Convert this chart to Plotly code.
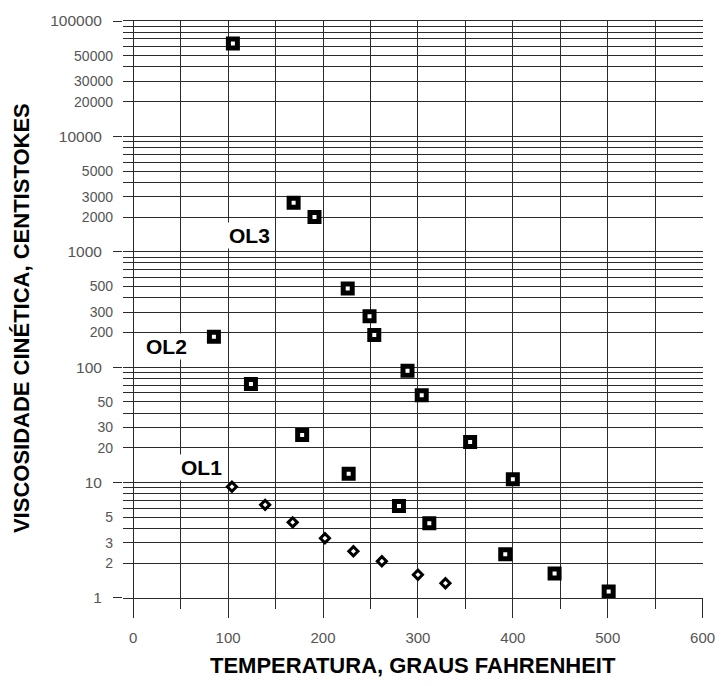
import math
import plotly.graph_objects as go

# ---- data ----
ol3_temp = [105, 169, 191, 226, 249, 254, 289, 304, 355, 400]
ol3_visc = [63800, 2660, 2005, 481, 276, 190, 93, 57, 22.5, 10.7]

ol2_temp = [85, 124, 178, 227, 280, 312, 392, 444, 501]
ol2_visc = [184, 71.5, 25.8, 11.9, 6.28, 4.43, 2.39, 1.63, 1.14]

ol1_temp = [104, 139, 168, 202, 232, 262, 300, 329]
ol1_visc = [9.2, 6.41, 4.52, 3.29, 2.54, 2.08, 1.59, 1.34]

series_labels = ["OL3", "OL2", "OL1"]
label_temp = [123, 35, 72]
label_visc = [1384, 150, 13.4]

x_major = [0, 100, 200, 300, 400, 500, 600]
y_decades = [1, 10, 100, 1000, 10000, 100000]
y_minor_labels = [2, 3, 5, 20, 30, 50, 200, 300, 500, 2000, 3000, 5000, 20000, 30000, 50000]
y_grid = [m * 10 ** e for e in range(5) for m in range(1, 10)] + [100000]

x_title = "TEMPERATURA, GRAUS FAHRENHEIT"
y_title = "VISCOSIDADE CINÉTICA, CENTISTOKES"

# ---- figure ----
FONT = "Arial, Liberation Sans, sans-serif"
GRID = "#2b2b2b"
fig = go.Figure()

sq = dict(symbol="square", size=9, color="white", line=dict(color="black", width=5))
dm = dict(symbol="diamond", size=7, color="white", line=dict(color="black", width=3))
fig.add_trace(go.Scatter(x=ol3_temp, y=ol3_visc, mode="markers", marker=sq, name="OL3"))
fig.add_trace(go.Scatter(x=ol2_temp, y=ol2_visc, mode="markers", marker=sq, name="OL2"))
fig.add_trace(go.Scatter(x=ol1_temp, y=ol1_visc, mode="markers", marker=dm, name="OL1"))

for t, xv, yv in zip(series_labels, label_temp, label_visc):
    fig.add_annotation(x=xv, y=math.log10(yv), text=t, showarrow=False,
                       font=dict(family=FONT, size=21, color="black", weight="bold"),
                       bgcolor="white", borderpad=1)

fig.add_annotation(xref="paper", yref="paper", x=0.5, y=-0.117, text=f"<b>{x_title}</b>",
                   showarrow=False, xanchor="center", yanchor="middle",
                   font=dict(family=FONT, size=22, color="black"))
fig.add_annotation(xref="paper", yref="paper", x=-0.176, y=0.485, text=f"<b>{y_title}</b>",
                   showarrow=False, xanchor="center", yanchor="middle", textangle=-90,
                   font=dict(family=FONT, size=22, color="black"))

fig.update_layout(
    width=727, height=686,
    margin=dict(l=123, r=14, t=17, b=88),
    plot_bgcolor="white", paper_bgcolor="white",
    showlegend=False,
    xaxis=dict(
        range=[-10.8, 600.4],
        tickmode="array", tickvals=x_major, ticktext=[str(v) for v in x_major],
        ticks="outside", ticklen=19, tickcolor=GRID, tickwidth=1,
        tickfont=dict(family=FONT, size=15, color="#555"),
        ticklabelstandoff=7,
        showgrid=True, gridcolor=GRID, gridwidth=1,
        minor=dict(dtick=50, tick0=0, ticks="outside", ticklen=10, tickcolor=GRID,
                   showgrid=True, gridcolor=GRID, gridwidth=1),
        showline=True, linecolor=GRID, linewidth=1, mirror=True,
        zeroline=False,
    ),
    yaxis=dict(
        type="log", range=[-0.0005, 5.0005],
        tickmode="array", tickvals=y_minor_labels, ticktext=[str(v) for v in y_minor_labels],
        ticks="", ticklabelstandoff=9,
        tickfont=dict(family=FONT, size=14, color="#555"),
        showgrid=True, gridcolor=GRID, gridwidth=1,
        minor=dict(tickmode="array", tickvals=y_grid, ticks="",
                   showgrid=True, gridcolor=GRID, gridwidth=1),
        showline=False, zeroline=False,
    ),
    yaxis2=dict(
        type="log", range=[-0.0005, 5.0005], overlaying="y", side="left", anchor="x",
        tickmode="array", tickvals=y_decades, ticktext=[str(v) for v in y_decades],
        ticks="outside", ticklen=9, tickcolor=GRID, tickwidth=1,
        tickfont=dict(family=FONT, size=15.5, color="#555"),
        ticklabelstandoff=8,
        showgrid=False, showline=False, zeroline=False,
    ),
)
# dummy trace to activate yaxis2
fig.add_trace(go.Scatter(x=[None], y=[None], yaxis="y2", showlegend=False, hoverinfo="skip"))

fig.write_html("out.html", config={"displayModeBar": False},
               post_script="document.body.style.margin='0px';document.body.style.overflow='hidden';")
